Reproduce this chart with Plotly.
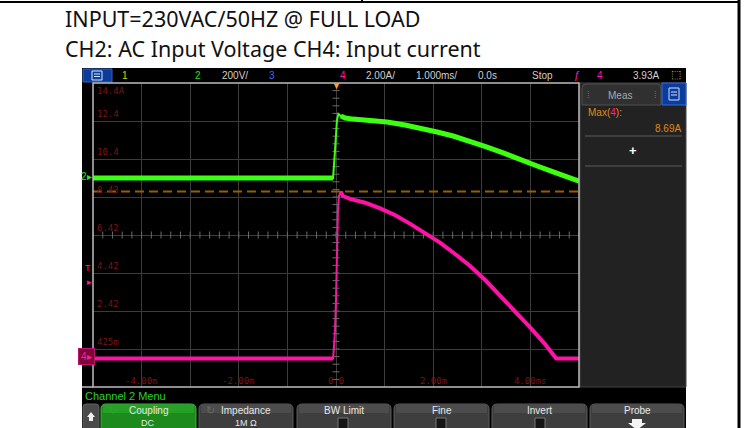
import plotly.graph_objects as go

W, H = 747, 428

# ---------------- data ----------------
# CH2 : AC input voltage (V), 200 V/div
time_v = [-5.0, -0.06, -0.02, 0.02, 0.05, 0.10, 0.19, 0.35, 0.70, 1.05, 1.42, 1.73,
          2.08, 2.41, 2.76, 3.11, 3.44, 3.79, 4.14, 4.47, 4.73, 5.0]
volt_v = [0, 0, 147, 305, 337, 326, 316, 310, 305, 295, 279, 263,
          242, 221, 195, 163, 132, 95, 63, 32, 8, -16]

# CH4 : input current (A), 2 A/div
time_i = [-5.0, -0.06, -0.04, -0.02, 0.0, 0.02, 0.04, 0.06, 0.10, 0.14, 0.29, 0.60,
          0.91, 1.21, 1.52, 1.83, 2.14, 2.45, 2.76, 3.07, 3.37, 3.68, 3.99, 4.30, 4.53, 5.0]
curr_i = [-0.1, -0.1, 0.6, 1.4, 3.0, 5.6, 7.7, 8.45, 8.69, 8.45, 8.3, 8.1,
          7.8, 7.45, 7.0, 6.5, 6.0, 5.4, 4.77, 4.03, 3.24, 2.4, 1.55, 0.66, -0.1, -0.1]

max_current = 8.69
trigger_level = 3.93

time_tick_vals = [-4, -2, 0, 2, 4]
time_tick_text = ["-4.00m", "-2.00m", "0.0", "2.00m", "4.00ms"]
curr_tick_vals = [14.4, 12.4, 10.4, 8.4, 6.4, 4.4, 2.4, 0.4]
curr_tick_text = ["14.4A", "12.4", "10.4", "8.43", "6.42", "4.42", "2.42", "425m"]

title_line1 = "INPUT=230VAC/50HZ @ FULL LOAD"
title_line2 = "CH2: AC Input Voltage CH4: Input current"

GREEN = "#3dff10"
PINK = "#ff12a6"
LBL = "#7c1414"
UI = "Liberation Sans"


def X(p):
    return p / W


def Y(p):
    return 1 - p / H


fig = go.Figure()

# voltage: thin full trace + thick noise bands
fig.add_trace(go.Scatter(x=time_v, y=volt_v, yaxis="y2", mode="lines",
                         line=dict(color=GREEN, width=2), hoverinfo="skip"))
fig.add_trace(go.Scatter(x=time_v[:2], y=volt_v[:2], yaxis="y2", mode="lines",
                         line=dict(color=GREEN, width=5), hoverinfo="skip"))
fig.add_trace(go.Scatter(x=time_v[5:], y=volt_v[5:], yaxis="y2", mode="lines",
                         line=dict(color=GREEN, width=5), hoverinfo="skip"))

# current
fig.add_trace(go.Scatter(x=time_i, y=curr_i, mode="lines",
                         line=dict(color=PINK, width=2), hoverinfo="skip"))
fig.add_trace(go.Scatter(x=time_i[:2], y=curr_i[:2], mode="lines",
                         line=dict(color=PINK, width=4), hoverinfo="skip"))
fig.add_trace(go.Scatter(x=time_i[8:], y=curr_i[8:], mode="lines",
                         line=dict(color=PINK, width=4), hoverinfo="skip"))

# max marker line
fig.add_trace(go.Scatter(x=[-5, 5], y=[max_current, max_current], mode="lines",
                         line=dict(color="#9a5c00", width=2, dash="9px,5px"),
                         hoverinfo="skip"))

# center-line minor ticks (graticule decoration)
minor_t = [(-5 + 0.2 * k) for k in range(51)]
minor_i = [(-1.6 + 0.4 * k) for k in range(41)]
fig.add_trace(go.Scatter(x=minor_t, y=[6.4] * len(minor_t), mode="markers",
                         marker=dict(symbol="line-ns", size=5,
                                     line=dict(color="#6a6a6a", width=1)),
                         hoverinfo="skip"))
fig.add_trace(go.Scatter(x=[0] * len(minor_i), y=minor_i, mode="markers",
                         marker=dict(symbol="line-ew", size=5,
                                     line=dict(color="#6a6a6a", width=1)),
                         hoverinfo="skip"))

shapes = []


def rect(x0, y0, x1, y1, fill, line=None, lw=0, layer="below"):
    shapes.append(dict(type="rect", xref="paper", yref="paper",
                       x0=X(x0), x1=X(x1), y0=Y(y1), y1=Y(y0),
                       fillcolor=fill, line=dict(color=line or fill, width=lw),
                       layer=layer))


def hline(x0, x1, y, color, w=1, layer="above"):
    shapes.append(dict(type="line", xref="paper", yref="paper",
                       x0=X(x0), x1=X(x1), y0=Y(y), y1=Y(y),
                       line=dict(color=color, width=w), layer=layer))


def vline(x, y0, y1, color, w=1, layer="above"):
    shapes.append(dict(type="line", xref="paper", yref="paper",
                       x0=X(x), x1=X(x), y0=Y(y0), y1=Y(y1),
                       line=dict(color=color, width=w), layer=layer))


def rrect(x0, y0, x1, y1, r, fill, line, layer="above"):
    p = (f"M {X(x0)},{Y(y1)} L {X(x0)},{Y(y0 + r)} Q {X(x0)},{Y(y0)} {X(x0 + r)},{Y(y0)} "
         f"L {X(x1 - r)},{Y(y0)} Q {X(x1)},{Y(y0)} {X(x1)},{Y(y0 + r)} L {X(x1)},{Y(y1)} Z")
    shapes.append(dict(type="path", xref="paper", yref="paper", path=p,
                       fillcolor=fill, line=dict(color=line, width=1), layer=layer))


# document frame
hline(0, 740, 2, "#000000", 2)
vline(362, 0, 2, "#000000", 2)
vline(739, 0, 428, "#000000", 3)

# scope screen
rect(82, 68, 686, 430, "#000000")
# top bar menu button
rect(83, 69, 112, 82, "#0b3c9c", "#2f63c8", 1, layer="above")
rect(92, 71, 102, 80, "rgba(0,0,0,0)", "#d8e4ff", 1, layer="above")
hline(94, 100, 74, "#d8e4ff", 1)
hline(94, 100, 76.5, "#d8e4ff", 1)

# measurement panel
rect(580, 83, 686, 387, "#222222", "#454545", 1)
rrect(582, 84, 661, 105, 4, "#303030", "#505050")
rect(662, 83, 686, 105, "#0b3c9c", "#3a6ad0", 1, layer="above")
rect(669, 88, 679, 100, "rgba(0,0,0,0)", "#cfdcff", 1, layer="above")
hline(671, 677, 92, "#cfdcff", 1)
hline(671, 677, 95, "#cfdcff", 1)
hline(585, 682, 136, "#5a5a5a", 1)
hline(585, 682, 166, "#5a5a5a", 1)

# plot border
shapes.append(dict(type="rect", xref="x domain", yref="y domain", x0=0, x1=1, y0=0, y1=1,
                   line=dict(color="#bdbdbd", width=1.5), layer="above"))
hline(82, 93, 387, "#bdbdbd", 1.5)

# bottom soft-key buttons
btn_specs = [(101, 196, True), (199, 293, False), (297, 391, False),
             (394, 489, False), (492, 587, False), (590, 684, False)]
rrect(83, 404, 99, 432, 3, "#4a4a4a", "#5e5e5e")
for x0, x1, active in btn_specs:
    if active:
        rrect(x0, 404, x1, 432, 5, "#1c8a1c", "#3cb43c")
        rect(x0 + 2, 405, x1 - 2, 413, "#26a026", layer="above")
    else:
        rrect(x0, 404, x1, 432, 5, "#3e3e3e", "#5a5a5a")
        rect(x0 + 2, 405, x1 - 2, 413, "#4c4c4c", layer="above")
# checkboxes
for cx in (343, 441, 540):
    rect(cx - 5, 418, cx + 5, 430, "#151515", "#777777", 1, layer="above")
# up arrow on first key
shapes.append(dict(type="path", xref="paper", yref="paper", layer="above",
                   path=f"M {X(91)},{Y(412)} L {X(95)},{Y(417)} L {X(93)},{Y(417)} L {X(93)},{Y(421)} "
                        f"L {X(89)},{Y(421)} L {X(89)},{Y(417)} L {X(87)},{Y(417)} Z",
                   fillcolor="#f0f0f0", line=dict(color="#f0f0f0", width=0)))
# probe arrow
shapes.append(dict(type="path", xref="paper", yref="paper", layer="above",
                   path=f"M {X(632)},{Y(419)} L {X(642)},{Y(419)} L {X(642)},{Y(423)} L {X(646)},{Y(423)} "
                        f"L {X(637)},{Y(430)} L {X(628)},{Y(423)} L {X(632)},{Y(423)} Z",
                   fillcolor="#f4f4f4", line=dict(color="#f4f4f4", width=0)))

ann = []


def text(x, y, s, color, size=10, font=UI, xa="center", ya="middle", **kw):
    d = dict(x=X(x), y=Y(y), xref="paper", yref="paper", text=s, showarrow=False,
             font=dict(color=color, size=size, family=font), xanchor=xa, yanchor=ya)
    d.update(kw)
    ann.append(d)


# heading
text(63, 19, title_line1, "#111111", 21.5, "Noto Sans", xa="left")
text(63, 48, title_line2, "#111111", 21.5, "Noto Sans", xa="left")

# top status bar
text(125, 75, "1", "#d4d400", 10)
text(198, 75, "2", "#22e022", 10)
text(235, 75, "200V/", "#d0d0d0", 10)
text(272, 75, "3", "#4466ff", 10)
text(343, 75, "4", "#ff1aa6", 10)
text(380, 75, "2.00A/", "#d0d0d0", 10)
text(436, 75, "1.000ms/", "#d0d0d0", 10)
text(487, 75, "0.0s", "#d0d0d0", 10)
text(542, 75, "Stop", "#d0d0d0", 10)
text(577, 75, "ƒ", "#ff1aa6", 11)
text(600, 75, "4", "#ff1aa6", 10)
text(646, 75, "3.93A", "#d0d0d0", 10)
text(676, 74, "⬚", "#d0d0d0", 11)

# measurement panel texts
text(620, 95, "Meas", "#a8a8a8", 10)
text(588, 95, "⁞", "#707070", 9)
text(655, 95, "⁞", "#707070", 9)
text(586, 113, 'Max(<span style="color:#ff1aa6">4</span>):', "#e08a10", 10, xa="left")
text(683, 128, "8.69A", "#e08a10", 10, xa="right")
text(633, 150, "<b>+</b>", "#ffffff", 13)

# bottom menu texts
text(83, 396, "Channel 2 Menu", "#2ad02a", 11, xa="left")
key_labels = ["Coupling", "Impedance", "BW Limit", "Fine", "Invert", "Probe"]
for (x0, x1, _), lab in zip(btn_specs, key_labels):
    text((x0 + x1) / 2, 410, lab, "#e6e6e6", 10)
text(148, 422.5, "DC", "#e6e6e6", 9)
text(246, 422.5, "1M Ω", "#e6e6e6", 9)
text(112, 410, "↻", "#2aa82a", 11)
text(210, 410, "↻", "#6a6a6a", 11)

# left-side channel markers
text(86, 177, "2▸", "#30e030", 10)
text(88, 268, "T", "#ff1aa6", 9)
ann.append(dict(x=X(89), y=trigger_level, xref="paper", yref="y", text="▸", showarrow=False,
                font=dict(color="#ff1aa6", size=9, family=UI), xanchor="center", yanchor="middle"))
ann.append(dict(x=X(86), y=0, xref="paper", yref="y", text="4▸", showarrow=False,
                font=dict(color="#ff1aa6", size=10, family=UI), xanchor="center", yanchor="middle",
                bgcolor="#7a0a34", bordercolor="#c01070", borderwidth=1, borderpad=2))
# trigger time marker
ann.append(dict(x=0, y=Y(86), xref="x", yref="paper", text="▼", showarrow=False,
                font=dict(color="#ffa020", size=9, family=UI), xanchor="center", yanchor="middle"))

# graticule labels
for v, s in zip(time_tick_vals, time_tick_text):
    ann.append(dict(x=v, y=Y(381), xref="x", yref="paper", text=s, showarrow=False,
                    font=dict(color=LBL, size=9, family="DejaVu Sans Mono"),
                    xanchor="center", yanchor="middle"))
for v, s in zip(curr_tick_vals, curr_tick_text):
    top = v == curr_tick_vals[0]
    ann.append(dict(x=X(95), y=v, xref="paper", yref="y", text=s, showarrow=False,
                    font=dict(color=LBL, size=9, family="DejaVu Sans Mono"),
                    xanchor="left", yanchor="top" if top else "bottom",
                    yshift=-1 if top else 0))

fig.update_layout(
    width=W, height=H,
    margin=dict(l=0, r=0, t=0, b=0),
    paper_bgcolor="#ffffff", plot_bgcolor="#000000",
    showlegend=False,
    xaxis=dict(domain=[X(93), X(579)], range=[-5, 5], dtick=1, tick0=0,
               showgrid=True, gridcolor="#3c3c3c", gridwidth=1, zeroline=False,
               showticklabels=False, ticks="", showline=False, fixedrange=True),
    yaxis=dict(domain=[Y(387), Y(83)], range=[-1.6, 14.4], dtick=2, tick0=0.4,
               showgrid=True, gridcolor="#3c3c3c", gridwidth=1, zeroline=False,
               showticklabels=False, ticks="", showline=False, fixedrange=True),
    yaxis2=dict(overlaying="y", range=[-1100, 500], visible=False, fixedrange=True),
    shapes=shapes,
    annotations=ann,
)

fig.write_html("out.html", config={"displayModeBar": False},
               post_script="document.body.style.margin='0px';document.body.style.overflow='hidden';")
